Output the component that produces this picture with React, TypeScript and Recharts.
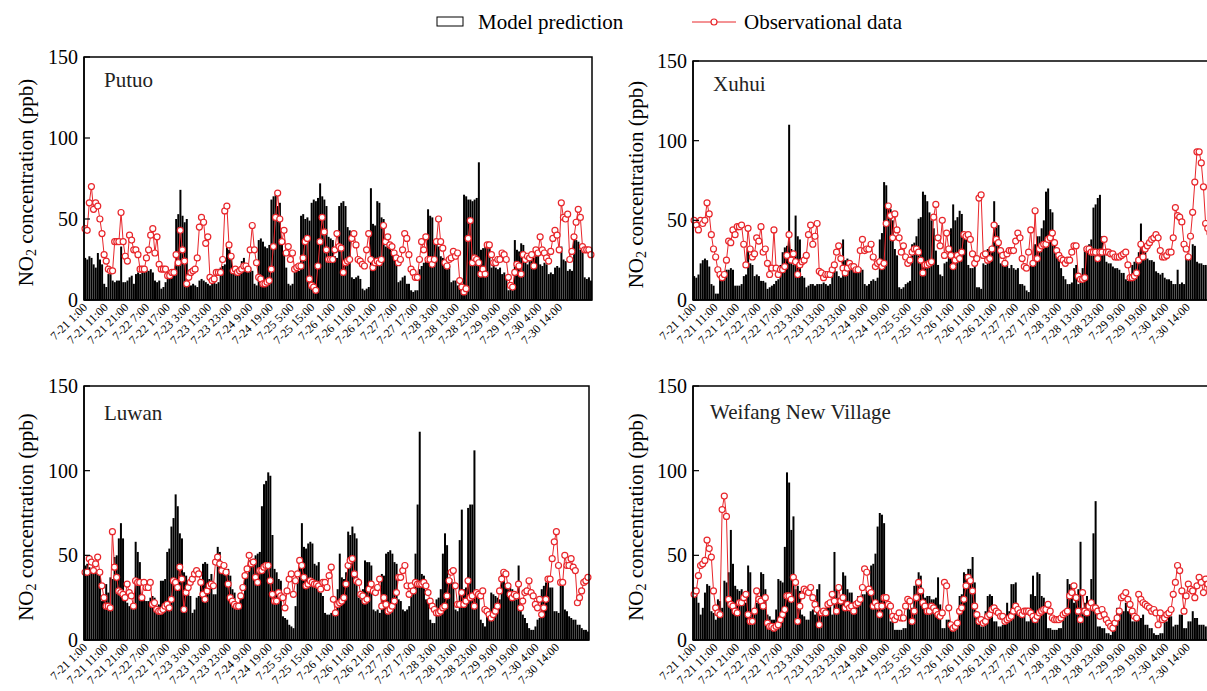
import React from 'react';
import { ComposedChart, Bar, Line, XAxis, YAxis, Label } from 'recharts';

const FONT = '"Liberation Serif", "Times New Roman", serif';
const RED = '#e8262b';

const tickLabels = [
  '7-21 1:00', '7-21 11:00', '7-21 21:00', '7-22 7:00', '7-22 17:00', '7-23 3:00',
  '7-23 13:00', '7-23 23:00', '7-24 9:00', '7-24 19:00', '7-25 5:00', '7-25 15:00',
  '7-26 1:00', '7-26 11:00', '7-26 21:00', '7-27 7:00', '7-27 17:00', '7-28 3:00',
  '7-28 13:00', '7-28 23:00', '7-29 9:00', '7-29 19:00', '7-30 4:00', '7-30 14:00',
];

// hourly values, 240 per series
const putuoModel = [
  26, 25, 27, 26, 22, 20, 29, 25, 22, 10, 8, 16, 16, 12, 11, 12, 12, 33, 11, 11,
  12, 14, 15, 10, 16, 17, 16, 19, 20, 19, 18, 19, 17, 12, 11, 12, 7, 8, 11, 13,
  14, 16, 17, 50, 53, 68, 52, 48, 50, 10, 9, 10, 9, 8, 12, 13, 12, 11, 10, 9,
  10, 11, 10, 11, 20, 21, 22, 33, 31, 28, 18, 17, 16, 18, 24, 26, 22, 20, 20, 18,
  10, 9, 37, 38, 36, 33, 32, 34, 62, 64, 65, 58, 60, 38, 30, 20, 10, 9, 10, 18,
  19, 18, 52, 53, 50, 51, 49, 60, 62, 61, 63, 72, 64, 62, 58, 39, 38, 37, 27, 26,
  58, 60, 61, 58, 45, 43, 14, 13, 14, 15, 13, 7, 6, 7, 8, 69, 47, 46, 61, 60,
  51, 50, 33, 34, 32, 29, 28, 27, 11, 12, 14, 15, 10, 10, 6, 5, 6, 6, 19, 21,
  23, 24, 56, 52, 51, 35, 34, 33, 27, 26, 20, 19, 21, 11, 12, 12, 9, 10, 10, 65,
  64, 62, 62, 61, 62, 63, 85, 31, 32, 33, 34, 33, 20, 21, 20, 19, 20, 16, 17, 15,
  6, 7, 6, 37, 31, 30, 35, 34, 23, 22, 24, 27, 26, 27, 28, 22, 21, 23, 22, 16,
  17, 16, 20, 21, 20, 33, 25, 24, 18, 19, 18, 38, 37, 36, 31, 30, 14, 13, 14, 12,
];
const putuoObs = [
  44, 43, 60, 70, 56, 60, 58, 50, 41, 28, 24, 19, 18, 18, 36, 36, 36, 54, 36, 27,
  24, 40, 37, 31, 31, 28, 19, 19, 19, 26, 31, 40, 44, 29, 39, 22, 19, 19, 19, 15,
  15, 17, 17, 28, 23, 43, 31, 24, 10, 14, 17, 18, 19, 26, 45, 51, 48, 35, 39, 14,
  12, 13, 17, 17, 17, 25, 55, 58, 34, 27, 18, 19, 17, 18, 19, 21, 21, 19, 31, 46,
  31, 23, 14, 13, 10, 10, 11, 12, 19, 33, 51, 66, 50, 36, 43, 29, 33, 25, 29, 19,
  20, 21, 21, 26, 36, 38, 13, 9, 8, 6, 21, 36, 51, 42, 31, 25, 25, 25, 31, 41,
  33, 32, 17, 23, 24, 25, 38, 41, 34, 25, 24, 22, 21, 31, 41, 25, 20, 23, 24, 23,
  25, 46, 36, 39, 34, 33, 29, 26, 23, 25, 31, 41, 38, 28, 19, 17, 14, 14, 25, 36,
  31, 39, 25, 25, 22, 25, 36, 50, 36, 32, 23, 21, 25, 26, 30, 27, 29, 12, 8, 5,
  7, 38, 49, 23, 26, 25, 23, 16, 19, 16, 34, 34, 28, 23, 23, 25, 25, 29, 28, 25,
  14, 9, 8, 17, 22, 21, 16, 28, 25, 27, 26, 28, 21, 31, 29, 39, 31, 29, 26, 24,
  30, 38, 43, 40, 31, 60, 51, 50, 53, 25, 30, 39, 48, 56, 51, 33, 31, 31, 31, 28,
];

const xuhuiModel = [
  15, 14, 16, 23, 25, 26, 25, 21, 10, 9, 4, 4, 13, 14, 15, 19, 19, 20, 19, 9,
  9, 9, 10, 15, 16, 32, 23, 22, 15, 16, 15, 12, 12, 11, 7, 8, 9, 10, 12, 13,
  22, 30, 33, 34, 110, 32, 22, 53, 40, 38, 15, 14, 8, 9, 10, 10, 9, 10, 10, 10,
  11, 10, 9, 10, 19, 20, 18, 15, 14, 38, 25, 26, 22, 23, 22, 21, 21, 20, 19, 10,
  9, 10, 12, 13, 12, 14, 38, 42, 74, 72, 58, 57, 50, 32, 28, 8, 7, 8, 10, 11,
  12, 35, 36, 40, 51, 52, 68, 66, 62, 55, 50, 45, 31, 22, 16, 15, 23, 24, 30, 45,
  60, 50, 52, 56, 54, 40, 38, 22, 20, 20, 30, 8, 8, 7, 23, 22, 32, 33, 34, 62,
  48, 47, 23, 22, 23, 24, 20, 22, 20, 19, 20, 10, 10, 9, 6, 5, 23, 22, 35, 40,
  40, 45, 50, 68, 70, 57, 55, 35, 30, 28, 20, 15, 13, 10, 10, 11, 20, 22, 10, 11,
  20, 33, 30, 35, 38, 58, 60, 64, 66, 40, 31, 24, 23, 23, 21, 20, 20, 19, 17, 17,
  13, 12, 12, 22, 24, 26, 30, 48, 31, 30, 26, 25, 25, 24, 18, 17, 16, 17, 14, 13,
  13, 12, 10, 10, 19, 10, 11, 10, 27, 29, 28, 35, 34, 24, 23, 23, 22, 22, 21, 20,
];
const xuhuiObs = [
  50, 47, 44, 50, 48, 50, 61, 54, 41, 32, 27, 19, 16, 14, 16, 25, 37, 36, 44, 41,
  46, 46, 47, 35, 22, 45, 32, 27, 29, 39, 37, 46, 30, 32, 23, 16, 20, 44, 20, 16,
  19, 19, 21, 28, 41, 25, 29, 24, 16, 22, 24, 25, 28, 41, 47, 35, 40, 48, 18, 17,
  14, 16, 16, 16, 19, 22, 30, 34, 26, 20, 17, 20, 23, 21, 21, 19, 19, 31, 38, 31,
  32, 32, 35, 27, 21, 23, 24, 21, 23, 48, 59, 53, 39, 54, 44, 39, 30, 34, 27, 23,
  25, 30, 32, 32, 30, 25, 17, 22, 22, 23, 24, 52, 60, 39, 34, 50, 28, 42, 32, 28,
  21, 25, 28, 26, 30, 41, 40, 41, 38, 29, 23, 26, 64, 66, 28, 29, 25, 26, 32, 47,
  38, 36, 31, 28, 23, 29, 31, 31, 31, 37, 42, 39, 26, 21, 20, 30, 44, 23, 56, 26,
  32, 34, 35, 35, 38, 39, 42, 36, 31, 28, 26, 25, 23, 25, 25, 30, 34, 34, 15, 13,
  13, 14, 32, 32, 30, 30, 30, 26, 30, 30, 38, 30, 30, 29, 29, 27, 27, 27, 28, 29,
  30, 22, 14, 14, 15, 17, 25, 35, 27, 32, 34, 36, 38, 39, 41, 39, 31, 27, 27, 28,
  30, 30, 39, 58, 53, 52, 49, 35, 32, 27, 40, 55, 74, 93, 93, 86, 71, 48, 45, 42,
];

const luwanModel = [
  44, 45, 43, 41, 40, 40, 39, 38, 23, 24, 33, 28, 37, 36, 49, 50, 60, 69, 60, 24,
  22, 20, 21, 20, 58, 52, 46, 27, 26, 23, 23, 25, 26, 25, 20, 21, 35, 35, 36, 52,
  54, 67, 72, 86, 79, 63, 60, 40, 38, 27, 26, 16, 18, 25, 26, 35, 45, 46, 45, 36,
  39, 27, 27, 55, 52, 44, 42, 41, 42, 38, 30, 28, 20, 22, 25, 27, 38, 37, 47, 46,
  48, 50, 51, 52, 79, 92, 94, 99, 97, 62, 42, 40, 36, 35, 14, 13, 12, 9, 8, 7,
  20, 35, 43, 69, 55, 54, 57, 58, 57, 45, 44, 46, 28, 26, 16, 15, 15, 16, 15, 18,
  30, 51, 37, 36, 40, 64, 62, 67, 63, 60, 25, 24, 30, 47, 46, 46, 44, 18, 17, 18,
  16, 39, 38, 51, 52, 53, 51, 46, 45, 24, 23, 18, 17, 18, 20, 27, 35, 51, 80, 123,
  39, 38, 24, 23, 12, 10, 10, 24, 25, 30, 51, 63, 56, 35, 36, 34, 18, 17, 59, 77,
  30, 31, 78, 80, 80, 112, 28, 27, 12, 10, 8, 16, 15, 28, 27, 26, 25, 24, 41, 40,
  33, 31, 31, 30, 25, 24, 44, 18, 15, 13, 10, 7, 6, 6, 8, 12, 13, 30, 32, 34,
  35, 31, 31, 17, 17, 16, 33, 32, 18, 17, 14, 13, 12, 12, 9, 9, 7, 6, 6, 5,
];
const luwanObs = [
  40, 40, 48, 46, 41, 45, 49, 40, 32, 25, 20, 20, 19, 64, 43, 37, 29, 28, 27, 25,
  33, 28, 26, 20, 35, 34, 34, 25, 34, 31, 31, 34, 21, 22, 18, 17, 17, 18, 20, 21,
  19, 24, 35, 34, 31, 43, 36, 18, 28, 31, 34, 36, 39, 41, 39, 34, 27, 24, 29, 32,
  33, 32, 46, 49, 45, 41, 44, 40, 33, 25, 23, 21, 20, 20, 26, 31, 38, 42, 50, 45,
  46, 37, 34, 41, 41, 43, 44, 44, 35, 27, 23, 23, 28, 26, 25, 19, 29, 36, 39, 27,
  35, 39, 47, 44, 37, 32, 33, 35, 34, 33, 33, 32, 30, 34, 34, 31, 38, 43, 24, 16,
  21, 22, 23, 25, 33, 44, 47, 48, 39, 35, 34, 27, 26, 23, 24, 30, 33, 29, 28, 31,
  36, 20, 25, 21, 17, 18, 20, 23, 28, 37, 37, 41, 44, 32, 27, 32, 29, 34, 33, 33,
  33, 34, 32, 28, 23, 20, 18, 16, 16, 17, 19, 20, 26, 35, 40, 41, 32, 21, 21, 28,
  21, 23, 35, 25, 26, 20, 28, 27, 26, 29, 18, 17, 15, 13, 15, 17, 20, 29, 36, 40,
  39, 32, 27, 25, 27, 26, 33, 19, 23, 28, 29, 35, 28, 26, 21, 19, 24, 15, 19, 24,
  36, 36, 48, 58, 64, 44, 34, 34, 50, 44, 44, 48, 43, 41, 22, 25, 29, 34, 35, 37,
];

const weifangModel = [
  31, 30, 22, 15, 19, 28, 33, 32, 17, 16, 12, 24, 23, 19, 35, 34, 40, 65, 45, 32,
  30, 29, 30, 28, 22, 44, 40, 17, 18, 22, 23, 40, 39, 30, 15, 14, 12, 12, 18, 36,
  35, 34, 55, 99, 93, 65, 73, 30, 32, 29, 15, 14, 12, 12, 17, 18, 15, 30, 33, 15,
  15, 19, 20, 20, 15, 52, 30, 25, 24, 40, 38, 30, 28, 28, 22, 22, 26, 26, 27, 27,
  30, 31, 44, 45, 51, 67, 75, 74, 69, 22, 20, 11, 11, 6, 6, 6, 6, 7, 7, 19,
  18, 19, 32, 33, 40, 38, 30, 25, 26, 26, 24, 24, 25, 37, 21, 7, 7, 12, 12, 7,
  7, 11, 11, 26, 27, 40, 39, 42, 42, 49, 34, 15, 15, 8, 8, 17, 26, 27, 26, 11,
  11, 8, 8, 9, 9, 22, 17, 33, 33, 34, 17, 16, 15, 15, 11, 11, 27, 38, 26, 40,
  39, 26, 25, 17, 7, 7, 6, 6, 6, 7, 7, 14, 15, 36, 33, 32, 22, 26, 30, 58,
  19, 22, 26, 17, 36, 63, 82, 8, 8, 7, 7, 4, 4, 3, 11, 11, 19, 19, 17, 17,
  22, 17, 18, 11, 11, 12, 12, 13, 15, 9, 9, 7, 7, 4, 3, 3, 4, 4, 11, 11,
  15, 14, 8, 9, 9, 15, 15, 7, 7, 11, 11, 17, 13, 13, 9, 9, 9, 8, 8, 8,
];
const weifangObs = [
  27, 29, 38, 44, 45, 47, 59, 54, 49, 29, 19, 16, 15, 77, 85, 73, 24, 21, 20, 17,
  16, 22, 22, 25, 27, 15, 11, 11, 17, 29, 24, 23, 20, 25, 10, 8, 8, 7, 8, 9,
  12, 15, 18, 26, 26, 24, 37, 34, 11, 20, 26, 30, 29, 28, 31, 25, 21, 18, 9, 16,
  17, 16, 21, 22, 27, 23, 17, 31, 23, 25, 19, 21, 19, 20, 17, 21, 22, 24, 31, 42,
  40, 30, 28, 20, 22, 20, 15, 20, 25, 25, 21, 20, 14, 12, 14, 16, 13, 13, 20, 24,
  23, 11, 17, 25, 34, 29, 22, 20, 17, 17, 20, 19, 17, 15, 14, 16, 34, 32, 19, 9,
  7, 8, 10, 17, 19, 24, 32, 37, 35, 29, 20, 15, 11, 12, 10, 11, 14, 15, 18, 19,
  17, 16, 14, 14, 11, 12, 13, 14, 17, 20, 18, 16, 15, 17, 17, 17, 16, 14, 12, 14,
  16, 17, 18, 18, 21, 17, 13, 12, 12, 12, 13, 15, 16, 17, 26, 28, 32, 25, 17, 12,
  28, 17, 16, 20, 22, 19, 19, 17, 14, 18, 15, 12, 10, 8, 7, 10, 13, 17, 25, 26,
  28, 24, 21, 17, 14, 13, 27, 24, 22, 21, 20, 19, 17, 18, 16, 9, 16, 12, 13, 15,
  16, 18, 27, 34, 44, 41, 29, 17, 26, 33, 30, 29, 25, 32, 37, 34, 28, 36, 33, 30,
];

const makeXTick = (squeeze: number) => ({ x, y, payload }: any) => {
  const label = tickLabels[Math.round(payload.value / 10)];
  const ax = x + 3 - payload.value * squeeze;
  const ay = y;
  return (
    <text x={ax} y={ay} transform={`rotate(-45 ${ax} ${ay})`} textAnchor="end"
      fontSize={12} fontFamily={FONT} fill="#000">{label}</text>
  );
};

const YTick = ({ x, y, payload }: any) => (
  <g>
    <line x1={x + 6} x2={x + 12} y1={y} y2={y} stroke="#000" strokeWidth={1.2} />
    <text x={x} y={y} dy="0.35em" textAnchor="end" fontSize={20} fontFamily={FONT} fill="#000">
      {payload.value}
    </text>
  </g>
);

type PanelProps = {
  name: string;
  model: number[];
  obs: number[];
  left: number;
  top: number;
  width: number;
  height: number;
  margin: { top: number; right: number; bottom: number; left: number };
  yWidth: number;
  nameDx: number;
  nameDy: number;
  squeeze: number;
};

const X_HEIGHT = 75;

function Panel(p: PanelProps) {
  const rows = p.model.map((m, i) => ({ idx: i, model: m, obs: p.obs[i] }));
  const frame = { stroke: '#000', strokeWidth: 1.5 };
  const px = p.margin.left + p.yWidth;
  const py = p.margin.top;
  const pw = p.width - px - p.margin.right;
  const ph = p.height - p.margin.top - p.margin.bottom - X_HEIGHT;
  const XTick = makeXTick(p.squeeze);
  return (
    <div style={{ position: 'absolute', left: p.left, top: p.top, width: p.width, height: p.height }}>
      <ComposedChart width={p.width} height={p.height} data={rows} margin={p.margin} barCategoryGap="8%">
        <XAxis dataKey="idx" interval={9} height={X_HEIGHT} tickSize={0} tickMargin={8}
          tickLine={false} tick={<XTick />} axisLine={frame} />
        <YAxis domain={[0, 150]} ticks={[0, 50, 100, 150]} width={p.yWidth} tickSize={0}
          tickMargin={6} tickLine={false} tick={<YTick />} axisLine={frame}>
          <Label content={(lp: any) => {
            const vb = lp.viewBox;
            if (!vb) return null;
            const cx = vb.x;
            const cy = vb.y + vb.height / 2 + 4;
            return (
              <text transform={`rotate(-90 ${cx} ${cy})`} x={cx} y={cy} textAnchor="middle"
                dominantBaseline="central" fontSize={21} fontFamily={FONT} fill="#000">
                NO<tspan fontSize={14} dy={5}>2</tspan><tspan dy={-5}> concentration (ppb)</tspan>
              </text>
            );
          }} />
        </YAxis>
        <Bar dataKey="model" fill="#000" isAnimationActive={false} />
        <Line dataKey="obs" stroke={RED} strokeWidth={1} isAnimationActive={false}
          dot={{ r: 3, fill: '#fff', stroke: RED, strokeWidth: 1.2 }} />
      </ComposedChart>
      <svg width={p.width} height={p.height}
        style={{ position: 'absolute', left: 0, top: 0, pointerEvents: 'none' }}>
        <rect x={px} y={py} width={pw} height={ph} fill="none" stroke="#000" strokeWidth={1.5} />
        <text x={px + p.nameDx} y={py + p.nameDy} fontSize={21} fontFamily={FONT} fill="#222">
          {p.name}
        </text>
      </svg>
    </div>
  );
}

function TopLegend() {
  return (
    <svg width={1207} height={45} style={{ position: 'absolute', left: 0, top: 0 }}>
      <rect x={437} y={17} width={26} height={9} fill="#fff" stroke="#000" strokeWidth={1} />
      <text x={478} y={29} fontSize={21} fontFamily={FONT} fill="#000">Model prediction</text>
      <line x1={692} x2={736} y1={22} y2={22} stroke={RED} strokeWidth={1} />
      <circle cx={714} cy={22} r={3} fill="#fff" stroke={RED} strokeWidth={1.2} />
      <text x={744} y={29} fontSize={21} fontFamily={FONT} fill="#000">Observational data</text>
    </svg>
  );
}

export default function App() {
  return (
    <div style={{ position: 'fixed', left: 0, top: 0, width: 1207, height: 691, overflow: 'hidden',
      background: '#fff', fontFamily: FONT }}>
      <TopLegend />
      <Panel name="Putuo" model={putuoModel} obs={putuoObs} left={0} top={40} width={600} height={335}
        margin={{ top: 17, right: 8, bottom: 0, left: 26 }} yWidth={58} nameDx={20} nameDy={30}
        squeeze={0.052} />
      <Panel name="Xuhui" model={xuhuiModel} obs={xuhuiObs} left={603} top={40} width={620} height={335}
        margin={{ top: 21, right: 12, bottom: 0, left: 33 }} yWidth={57} nameDx={20} nameDy={30}
        squeeze={0.012} />
      <Panel name="Luwan" model={luwanModel} obs={luwanObs} left={0} top={370} width={600} height={345}
        margin={{ top: 16, right: 11, bottom: 0, left: 26 }} yWidth={58} nameDx={20} nameDy={34}
        squeeze={0.052} />
      <Panel name="Weifang New Village" model={weifangModel} obs={weifangObs} left={603} top={370}
        width={620} height={345} margin={{ top: 16, right: 12, bottom: 0, left: 33 }} yWidth={57}
        nameDx={17} nameDy={33} squeeze={0.012} />
    </div>
  );
}
